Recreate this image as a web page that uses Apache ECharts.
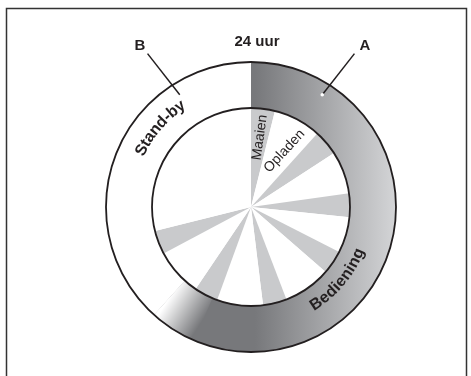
<!DOCTYPE html>
<html>
<head>
<meta charset="utf-8">
<script src="https://cdn.jsdelivr.net/npm/echarts@6/dist/echarts.min.js"></script>
<style>
  html, body { margin: 0; padding: 0; background: #fff; }
  #chart { width: 471px; height: 376px; }
</style>
</head>
<body>
<div id="chart"></div>
<script>
// buitenring: 24 uur in minuten, vanaf 0:00 met de klok mee
const dayParts = ['Bediening', 'Stand-by'];
const dayMinutes = [888, 552];

// binnenste cirkel: maaien / opladen afwisselend (minuten)
const cycleNames = ['Maaien', 'Opladen', 'Maaien', 'Opladen', 'Maaien', 'Opladen', 'Maaien',
  'Opladen', 'Maaien', 'Opladen', 'Maaien', 'Opladen', 'Maaien', 'Stand-by'];
const cycleMinutes = [56, 112, 60, 100, 56, 84, 56, 112, 56, 108, 56, 112, 56, 416];

const title = '24 uur';
const markA = 'A';
const markB = 'B';

// layout
const cx = 251, cy = 207;
const rIn = 99, rOut = 145;
const fadeMin = 76;          // overgang van grijs naar wit aan het eind van A
const ink = '#231f20';
const boldFont = 'bold 15px "Liberation Sans"';
const arcFont = 'bold 16px "Liberation Sans"';

const chart = echarts.init(document.getElementById('chart'));

function pt(deg, r) {
  const a = deg * Math.PI / 180;
  return [cx + r * Math.sin(a), cy - r * Math.cos(a)];
}

// tekst langs een boog, letter voor letter
const measure = document.createElement('canvas').getContext('2d');
function arcText(str, midDeg, r, font, bottom) {
  measure.font = font;
  const w = str.split('').map(c => measure.measureText(c).width);
  const total = w.reduce((s, v) => s + v, 0);
  const span = total / r;
  const mid = midDeg * Math.PI / 180;
  let acc = 0;
  return str.split('').map((c, i) => {
    const off = (acc + w[i] / 2) / r;
    acc += w[i];
    const a = bottom ? mid + span / 2 - off : mid - span / 2 + off;
    return {
      type: 'text',
      z: 10,
      x: cx + r * Math.sin(a),
      y: cy - r * Math.cos(a),
      rotation: bottom ? Math.PI - a : -a,
      style: { text: c, font: font, fill: ink, align: 'center', verticalAlign: 'middle' },
      silent: true
    };
  });
}

const aEnd = dayMinutes[0] / 1440 * 360;
const fadeStart = (dayMinutes[0] - fadeMin) / 1440 * 360;
const f1 = pt(aEnd, 122), f2 = pt(fadeStart, 122);

const ringColor = new echarts.graphic.LinearGradient(cx + 4, 0, cx + rOut, 0, [
  { offset: 0, color: '#77787b' },
  { offset: 1, color: '#d4d5d7' }
], true);
const fadeColor = new echarts.graphic.LinearGradient(f1[0], f1[1], f2[0], f2[1], [
  { offset: 0, color: 'rgba(255,255,255,1)' },
  { offset: 1, color: 'rgba(255,255,255,0)' }
], true);

const innerLabels = {
  0: { rotate: 82, padding: [0, 0, 0, 35] },
  1: { rotate: 47, padding: [0, 0, 0, 26] }
};

const lineA0 = pt(34, 185), lineA1 = pt(32.4, 133);
const lineB0 = pt(-34, 185), lineB1 = pt(-32.4, 133);

const option = {
  animation: false,
  backgroundColor: '#fff',
  series: [
    {
      type: 'pie',
      center: [cx, cy],
      radius: [rIn, rOut],
      startAngle: 90,
      silent: true,
      label: { show: false },
      labelLine: { show: false },
      data: dayParts.map((n, i) => ({
        name: n, value: dayMinutes[i],
        itemStyle: { color: i === 0 ? ringColor : '#fff' }
      }))
    },
    {
      type: 'pie',
      center: [cx, cy],
      radius: [rIn, rOut],
      startAngle: 90,
      silent: true,
      label: { show: false },
      labelLine: { show: false },
      data: [
        { value: dayMinutes[0] - fadeMin, itemStyle: { color: 'rgba(0,0,0,0)' } },
        { value: fadeMin, itemStyle: { color: fadeColor } },
        { value: dayMinutes[1], itemStyle: { color: 'rgba(0,0,0,0)' } }
      ]
    },
    {
      type: 'pie',
      center: [cx, cy],
      radius: [0, rIn],
      startAngle: 90,
      silent: true,
      avoidLabelOverlap: false,
      labelLine: { show: false },
      data: cycleNames.map((n, i) => ({
        name: n, value: cycleMinutes[i],
        itemStyle: { color: i % 2 === 0 && i < cycleNames.length - 1 ? '#c9cacc' : '#fff' },
        label: innerLabels[i] ? Object.assign({
          show: true, position: 'inside', formatter: '{b}',
          color: ink, fontSize: 14, fontFamily: 'Liberation Sans', fontWeight: 'normal'
        }, innerLabels[i]) : { show: false }
      }))
    },
    {
      // omtrek van de ring
      type: 'pie',
      center: [cx, cy],
      radius: [rIn, rOut],
      silent: true,
      label: { show: false },
      labelLine: { show: false },
      data: [{ value: 1, itemStyle: { color: 'rgba(0,0,0,0)', borderColor: ink, borderWidth: 1.8 } }]
    }
  ],
  graphic: [
    { type: 'rect', z: 10, shape: { x: 6.5, y: 8.5, width: 460, height: 400 },
      style: { fill: 'none', stroke: '#333', lineWidth: 1.5 }, silent: true },
    { type: 'text', z: 10, x: 257, y: 42, style: { text: title, font: boldFont, fill: ink, align: 'center', verticalAlign: 'middle' } },
    { type: 'text', z: 10, x: 140, y: 46, style: { text: markB, font: boldFont, fill: ink, align: 'center', verticalAlign: 'middle' } },
    { type: 'text', z: 10, x: 365, y: 46, style: { text: markA, font: boldFont, fill: ink, align: 'center', verticalAlign: 'middle' } },
    { type: 'line', z: 10, shape: { x1: lineB0[0], y1: lineB0[1], x2: lineB1[0], y2: lineB1[1] }, style: { stroke: ink, lineWidth: 1.5 } },
    { type: 'line', z: 10, shape: { x1: lineA0[0], y1: lineA0[1], x2: lineA1[0], y2: lineA1[1] }, style: { stroke: ink, lineWidth: 1.5 } },
    { type: 'circle', z: 11, shape: { cx: lineA1[0], cy: lineA1[1], r: 1.8 }, style: { fill: '#fff' } }
  ].concat(arcText('Stand-by', -49, 123, arcFont, false))
   .concat(arcText('Bediening', 130, 117, arcFont, true))
};

chart.setOption(option);
</script>
</body>
</html>
